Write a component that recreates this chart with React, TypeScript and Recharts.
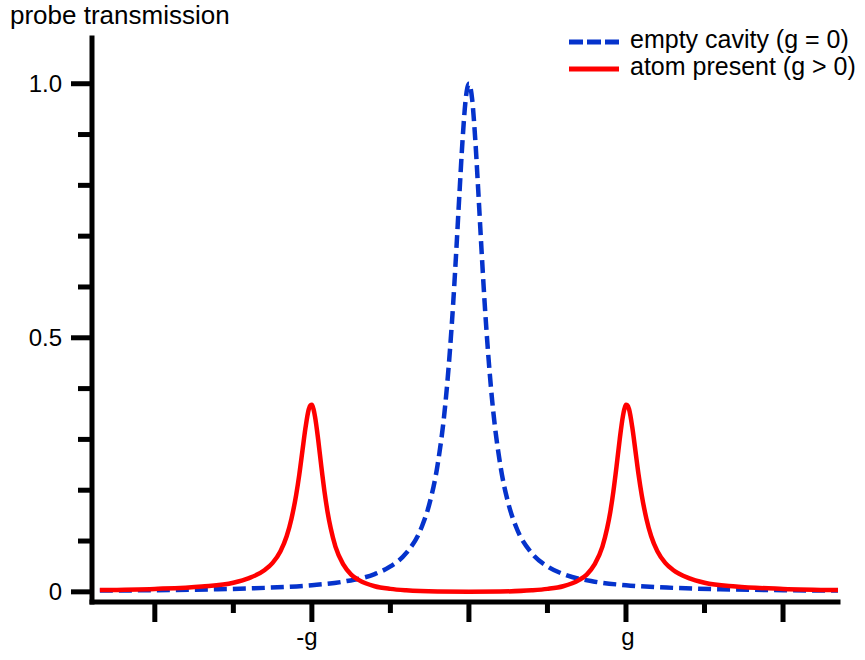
import React from "react";
import { LineChart, Line, XAxis, YAxis, Legend } from "recharts";

// detuning in units of g, transmission normalised to the empty-cavity peak
const emptyX = [
  -2.35, -2.0, -1.6, -1.3, -1.0, -0.8, -0.6, -0.5, -0.4, -0.3, -0.25, -0.2,
  -0.15, -0.12, -0.1, -0.08, -0.06, -0.04, -0.02, -0.01, 0, 0.01, 0.02, 0.04,
  0.06, 0.08, 0.1, 0.12, 0.15, 0.2, 0.25, 0.3, 0.4, 0.5, 0.6, 0.8, 1.0, 1.3,
  1.6, 2.0, 2.35,
];
const emptyT = [
  0.0024, 0.0033, 0.0051, 0.0078, 0.013, 0.02, 0.035, 0.05, 0.076, 0.128,
  0.175, 0.249, 0.37, 0.479, 0.569, 0.674, 0.786, 0.892, 0.971, 0.992, 1.0,
  0.992, 0.971, 0.892, 0.786, 0.674, 0.569, 0.479, 0.37, 0.249, 0.175, 0.128,
  0.076, 0.05, 0.035, 0.02, 0.013, 0.0078, 0.0051, 0.0033, 0.0024,
];

const atomX = [
  -2.35, -2.0, -1.7, -1.5, -1.4, -1.3, -1.25, -1.2, -1.16, -1.13, -1.1, -1.08,
  -1.06, -1.04, -1.02, -1.01, -1.0, -0.99, -0.98, -0.96, -0.94, -0.92, -0.9,
  -0.88, -0.85, -0.8, -0.75, -0.7, -0.6, -0.5, -0.4, -0.2, 0, 0.2, 0.4, 0.5,
  0.6, 0.7, 0.75, 0.8, 0.85, 0.88, 0.9, 0.92, 0.94, 0.96, 0.98, 0.99, 1.0,
  1.01, 1.02, 1.04, 1.06, 1.08, 1.1, 1.13, 1.16, 1.2, 1.25, 1.3, 1.4, 1.5,
  1.7, 2.0, 2.35,
];
const atomT = [
  0.0036, 0.0058, 0.0105, 0.018, 0.027, 0.043, 0.057, 0.08, 0.11, 0.144,
  0.191, 0.231, 0.278, 0.324, 0.359, 0.367, 0.368, 0.36, 0.345, 0.3, 0.247,
  0.198, 0.157, 0.125, 0.089, 0.054, 0.034, 0.023, 0.011, 0.0058, 0.003,
  0.0006, 0.0001, 0.0006, 0.003, 0.0058, 0.011, 0.023, 0.034, 0.054, 0.089,
  0.125, 0.157, 0.198, 0.247, 0.3, 0.345, 0.36, 0.368, 0.367, 0.359, 0.324,
  0.278, 0.231, 0.191, 0.144, 0.11, 0.08, 0.057, 0.043, 0.027, 0.018, 0.0105,
  0.0058, 0.0036,
];

const seriesNames = ["empty cavity (g = 0)", "atom present (g > 0)"];
const xTicks = [-2, -1.5, -1, -0.5, 0, 0.5, 1, 1.5, 2];
const xTickLabels: Record<string, string> = { "-1": "-g", "1": "g" };
const yTicks = [0, 0.1, 0.2, 0.3, 0.4, 0.5, 0.6, 0.7, 0.8, 0.9, 1.0];
const yTickLabels: Record<string, string> = { "0": "0", "0.5": "0.5", "1": "1.0" };

const BLUE = "#0533cc";
const RED = "#ff0000";
const FONT = "'Liberation Sans', Arial, sans-serif";

const emptyData = emptyX.map((x, i) => ({ x, y: emptyT[i] }));
const atomData = atomX.map((x, i) => ({ x, y: atomT[i] }));

const XTick = (props: any) => {
  const { x, y, payload } = props;
  const major = Number.isInteger(payload.value);
  const label = xTickLabels[String(payload.value)];
  return (
    <g>
      <line x1={x} x2={x} y1={y} y2={y + (major ? 20 : 11)} stroke='#000' strokeWidth={5} />
      {label && (
        <text
          x={x + (payload.value < 0 ? -5 : 2)}
          y={y + 43}
          textAnchor='middle'
          fontSize={24}
          fontFamily={FONT}
          fill='#000'
        >
          {label}
        </text>
      )}
    </g>
  );
};

const YTick = (props: any) => {
  const { x, y, payload } = props;
  const v = payload.value;
  const major = Math.abs(v * 2 - Math.round(v * 2)) < 1e-6;
  const label = yTickLabels[String(v)];
  return (
    <g>
      <line x1={x - (major ? 21 : 14)} x2={x} y1={y} y2={y} stroke='#000' strokeWidth={5} />
      {label && (
        <text
          x={x - 30}
          y={y + 8}
          textAnchor='end'
          fontSize={24}
          fontFamily={FONT}
          fill='#000'
        >
          {label}
        </text>
      )}
    </g>
  );
};

const LegendContent = (props: any) => {
  const { payload = [] } = props;
  // keep the series in drawing order rather than alphabetical
  const items = [...payload].sort(
    (a: any, b: any) => seriesNames.indexOf(a.value) - seriesNames.indexOf(b.value)
  );
  return (
    <div style={{ fontFamily: FONT, fontSize: 25, lineHeight: "27px", color: "#000" }}>
      {items.map((entry: any) => (
        <div key={entry.value} style={{ display: "flex", alignItems: "flex-start", height: 27, whiteSpace: "nowrap" }}>
          <svg width={50} height={27} style={{ marginRight: 11 }}>
            <line
              x1={0}
              x2={50}
              y1={16}
              y2={16}
              stroke={entry.color}
              strokeWidth={5}
              strokeDasharray={entry.payload?.strokeDasharray ? "14 4" : undefined}
            />
          </svg>
          <span>{entry.value}</span>
        </div>
      ))}
    </div>
  );
};

export default function App() {
  return (
    <div style={{ position: "absolute", left: 0, top: 0, width: 865, height: 660, background: "#fff" }}>
      <div
        style={{
          position: "absolute",
          left: 10,
          top: 3,
          fontFamily: FONT,
          fontSize: 26,
          lineHeight: "25px",
          color: "#000",
          whiteSpace: "nowrap",
        }}
      >
        probe transmission
      </div>
      <LineChart width={865} height={660} data={emptyData} margin={{ top: 38, right: 27, bottom: 0, left: 0 }}>
        <XAxis
          type='number'
          dataKey='x'
          domain={[-2.4, 2.35]}
          allowDataOverflow
          ticks={xTicks}
          interval={0}
          tick={<XTick />}
          tickLine={false}
          tickSize={0}
          tickMargin={0}
          height={58}
          axisLine={{ stroke: "#000", strokeWidth: 5, strokeLinecap: "square" }}
        />
        <YAxis
          type='number'
          domain={[-0.02, 1.09]}
          allowDataOverflow
          ticks={yTicks}
          interval={0}
          tick={<YTick />}
          tickLine={false}
          tickSize={0}
          tickMargin={0}
          width={92}
          axisLine={{ stroke: "#000", strokeWidth: 5, strokeLinecap: "square" }}
        />
        <Legend
          layout='vertical'
          align='center'
          verticalAlign='middle'
          content={<LegendContent />}
          wrapperStyle={{ left: 569, top: 26, width: 300, height: 54 }}
        />
        <Line
          data={emptyData}
          dataKey='y'
          name={seriesNames[0]}
          type='monotone'
          stroke={BLUE}
          strokeWidth={4.5}
          strokeDasharray='13 6'
          dot={false}
          activeDot={false}
          isAnimationActive={false}
        />
        <Line
          data={atomData}
          dataKey='y'
          name={seriesNames[1]}
          type='monotone'
          stroke={RED}
          strokeWidth={4.5}
          dot={false}
          activeDot={false}
          isAnimationActive={false}
        />
      </LineChart>
    </div>
  );
}
